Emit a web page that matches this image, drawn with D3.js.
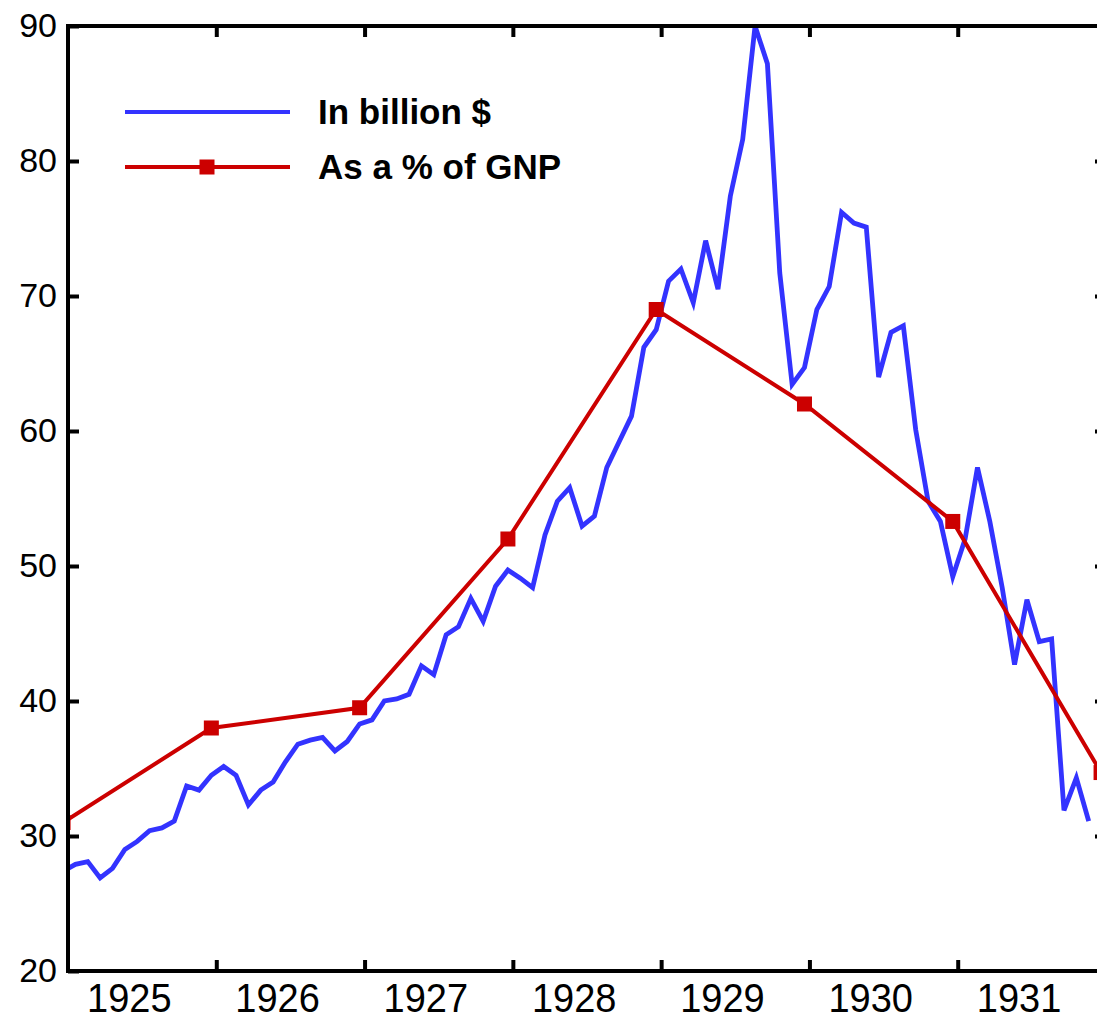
<!DOCTYPE html>
<html>
<head>
<meta charset="utf-8">
<script src="https://cdn.jsdelivr.net/npm/d3@7"></script>
<style>
  body { margin: 0; background: #fff; }
  text { font-family: "Liberation Sans", Arial, sans-serif; }
</style>
</head>
<body>
<svg id="chart"></svg>
<script>
// year labels (centred in each year), boundary ticks at each Jan
const years = [1925, 1926, 1927, 1928, 1929, 1930, 1931];
const yTicks = [20, 30, 40, 50, 60, 70, 80, 90];

// "In billion $" monthly, Dec 1924 .. Nov 1931
const billionStart = { year: 1924, month: 11 };
const inBillion = [
  27.4,
  27.9, 28.1, 26.9, 27.6, 29.0, 29.6, 30.4, 30.6, 31.1, 33.7, 33.4, 34.5,
  35.15, 34.5, 32.3, 33.4, 34.0, 35.5, 36.8, 37.1, 37.3, 36.3, 37.0, 38.3,
  38.6, 40.0, 40.15, 40.5, 42.6, 41.95, 44.9, 45.5, 47.6, 45.9, 48.5, 49.7,
  49.1, 48.4, 52.3, 54.8, 55.8, 52.95, 53.7, 57.3, 59.2, 61.1, 66.2, 67.5,
  71.1, 72.0, 69.5, 74.1, 70.5, 77.4, 81.6, 90.0, 87.2, 71.7, 63.45, 64.7,
  69.0, 70.7, 76.2, 75.4, 75.1, 64.0, 67.3, 67.8, 60.1, 54.8, 53.3, 49.2,
  52.0, 57.3, 53.3, 48.4, 42.7, 47.5, 44.4, 44.6, 31.9, 34.3, 31.1
];

// "As a % of GNP" at December of each year
const gnpYears = [1924, 1925, 1926, 1927, 1928, 1929, 1930, 1931];
const gnpShare = [31.0, 38.0, 39.5, 52.0, 69.0, 62.0, 53.3, 34.7];

const W = 1097, H = 1021;
const pLeft = 68, pRight = 1106, pTop = 26, pBottom = 971;

const svg = d3.select('#chart').attr('width', W).attr('height', H);

const x = d3.scaleLinear().domain([1925, 1932]).range([pLeft, pRight]);
const y = d3.scaleLinear().domain([20, 90]).range([pBottom, pTop]);

// month position (points sit a bit past the start of the month)
const monthPos = (yr, m) => yr + (m + 0.6) / 12;

const blue = inBillion.map((v, i) => {
  const m = billionStart.month + i;
  return { x: monthPos(billionStart.year + Math.floor(m / 12), m % 12), v: v };
});
const red = gnpYears.map((yr, i) => ({ x: monthPos(yr, 11), v: gnpShare[i] }));

svg.append('clipPath').attr('id', 'plot')
  .append('rect')
    .attr('x', pLeft).attr('y', pTop)
    .attr('width', pRight - pLeft).attr('height', pBottom - pTop);

const line = d3.line().x(d => x(d.x)).y(d => y(d.v));

const g = svg.append('g').attr('clip-path', 'url(#plot)');

g.append('path')
  .datum(blue)
  .attr('d', line)
  .attr('fill', 'none')
  .attr('stroke', '#3333ff')
  .attr('stroke-width', 4.8)
  .attr('stroke-linejoin', 'miter');

g.append('path')
  .datum(red)
  .attr('d', line)
  .attr('fill', 'none')
  .attr('stroke', '#cc0000')
  .attr('stroke-width', 4);

g.selectAll('rect.mk')
  .data(red)
  .enter()
  .append('rect')
    .attr('class', 'mk')
    .attr('x', d => x(d.x) - 7.5)
    .attr('y', d => y(d.v) - 7.5)
    .attr('width', 15).attr('height', 15)
    .attr('fill', '#cc0000');

// frame and ticks
const tickYears = years.slice(1);

const styleAxis = sel => {
  sel.selectAll('.domain').remove();
  sel.selectAll('.tick line').attr('stroke', '#000').attr('stroke-width', 4);
  sel.selectAll('.tick text').attr('fill', '#000');
};

svg.append('g')
    .attr('transform', 'translate(' + pLeft + ',0)')
    .call(d3.axisLeft(y).tickValues(yTicks).tickSizeInner(-11).tickSizeOuter(0).tickPadding(11))
    .call(styleAxis)
    .selectAll('text').style('font-size', '34px');

svg.append('g')
    .attr('transform', 'translate(' + pRight + ',0)')
    .call(d3.axisRight(y).tickValues(yTicks.slice(1, -1)).tickSizeInner(-11).tickSizeOuter(0).tickFormat(''))
    .call(styleAxis);

svg.append('g')
    .attr('transform', 'translate(0,' + pBottom + ')')
    .call(d3.axisBottom(x).tickValues(tickYears).tickSizeInner(-11).tickSizeOuter(0).tickFormat(''))
    .call(styleAxis);

svg.append('g')
    .attr('transform', 'translate(0,' + pTop + ')')
    .call(d3.axisTop(x).tickValues(tickYears).tickSizeInner(-11).tickSizeOuter(0).tickFormat(''))
    .call(styleAxis);

// year labels, a little left of mid-year as in the original
svg.append('g')
    .attr('transform', 'translate(0,' + pBottom + ')')
    .call(d3.axisBottom(x).tickValues(years.map(d => d + 0.41)).tickSize(0).tickFormat(d => Math.floor(d)))
    .call(styleAxis)
    .selectAll('text')
      .attr('y', 41)
      .attr('dy', 0)
      .style('font-size', '40px')
      .attr('transform', 'scale(0.95,1)');

svg.append('rect')
  .attr('x', pLeft).attr('y', pTop)
  .attr('width', pRight - pLeft).attr('height', pBottom - pTop)
  .attr('fill', 'none')
  .attr('stroke', '#000')
  .attr('stroke-width', 4);

// legend
const legend = svg.append('g').attr('transform', 'translate(125,0)');
const items = [
  { label: 'In billion $', color: '#3333ff', y: 112, marker: false },
  { label: 'As a % of GNP', color: '#cc0000', y: 167, marker: true }
];
items.forEach(it => {
  legend.append('line')
    .attr('x1', 0).attr('x2', 165)
    .attr('y1', it.y).attr('y2', it.y)
    .attr('stroke', it.color).attr('stroke-width', 4);
  if (it.marker) {
    legend.append('rect')
      .attr('x', 82 - 7.5).attr('y', it.y - 7.5)
      .attr('width', 15).attr('height', 15)
      .attr('fill', it.color);
  }
  legend.append('text')
    .attr('x', 193).attr('y', it.y)
    .attr('dy', '0.35em')
    .style('font-size', '35px')
    .style('font-weight', 'bold')
    .text(it.label);
});
</script>
</body>
</html>
